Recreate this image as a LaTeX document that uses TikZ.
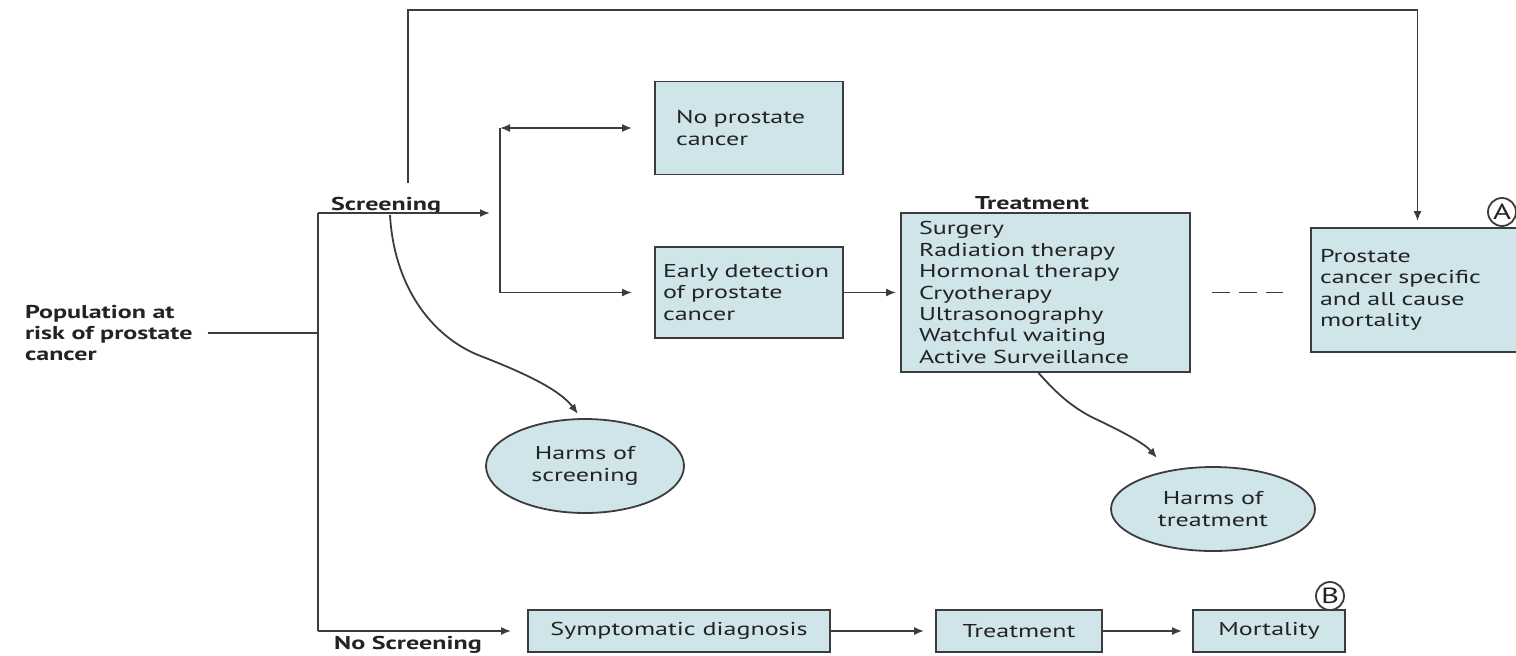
\documentclass[tikz,border=0pt]{standalone}
\usepackage{fontspec}
\setmainfont{PT Sans}[FakeStretch=1.4]
\usetikzlibrary{arrows.meta,shapes.geometric}
\definecolor{boxblue}{RGB}{207,229,233}
\definecolor{linegray}{RGB}{60,60,60}
\definecolor{textgray}{RGB}{35,35,35}
\begin{document}
\begin{tikzpicture}
[x=0.5pt,y=-0.5pt,
 font=\fontsize{9.3}{10.7}\selectfont, text=textgray,
 conn/.style={draw=linegray, line width=0.9pt},
 conarrow/.style={conn, -{Latex[length=5pt,width=4pt]}},
 headtext/.style={font=\fontsize{9.3}{10.5}\selectfont\bfseries},
 infobox/.style={draw=linegray, line width=0.9pt, fill=boxblue, inner ysep=0pt, align=left},
 flatbox/.style={draw=linegray, line width=0.9pt, fill=boxblue, minimum height=21pt, inner sep=0pt},
 harm/.style={ellipse, draw=linegray, line width=0.9pt, fill=boxblue, align=center, inner sep=0pt},
 markcirc/.style={circle, draw=linegray, line width=0.9pt, fill=white, inner sep=0pt, minimum size=14pt, font=\fontsize{11}{12}\selectfont}]
\useasboundingbox (0,0) rectangle (1516,655);
% texts
\node [headtext, align=left, anchor=west] (pop) at (18,333) {Population at\\risk of prostate\\cancer};
\node [headtext, anchor=base] (scrlab) at (386,210) {Screening};
\node [headtext, anchor=base] (noscrlab) at (408,649) {No Screening};
\node [headtext, anchor=base] (treatlab) at (1032,209) {Treatment};
% boxes
\node [infobox, text width=73pt, inner xsep=10.5pt, minimum height=46.5pt] (noprost) at (749,128) {No prostate\\cancer};
\node [infobox, text width=86pt, inner xsep=4pt, minimum height=45.5pt] (early) at (749,292.5) {Early detection\\of prostate\\cancer};
\node [infobox, text width=126.5pt, inner xsep=9pt, minimum height=79.5pt] (treat) at (1045.5,292.5) {Surgery\\Radiation therapy\\Hormonal therapy\\Cryotherapy\\Ultrasonography\\Watchful waiting\\Active Surveillance};
\node [infobox, text width=97.5pt, inner xsep=4.5pt, minimum height=62pt] (prost) at (1417.5,290) {Prostate\\cancer specific\\and all cause\\mortality};
\node [harm, minimum width=99pt, minimum height=47pt] (hscr) at (585,466) {Harms of\\screening};
\node [harm, minimum width=102pt, minimum height=42pt] (htreat) at (1213,509) {Harms of\\treatment};
\node [flatbox, minimum width=151pt] (sympt) at (679,631) {Symptomatic diagnosis};
\node [flatbox, minimum width=83pt] (treat2) at (1019,631) {Treatment};
\node [flatbox, minimum width=76pt] (mort) at (1269,631) {Mortality};
\node [markcirc] (markA) at (1502,212) {A};
\node [markcirc] (markB) at (1330,596) {B};
% junctions
\coordinate (fork) at (318,333);
\coordinate (scrfork) at (318,213);
\coordinate (noscrfork) at (318,631);
\coordinate (brtop) at (500,128);
\coordinate (brmid) at (500,213);
\coordinate (brbot) at (500,292.5);
\coordinate (loopstart) at (408,183);
\coordinate (loopcorner) at (408,10);
\coordinate (scrcurve) at (390,215);
\coordinate (scrtip) at (578,414);
\coordinate (treattip) at (1157,458);
% connectors
\draw [conn, shorten <=4pt] (pop.east) -- (fork);
\draw [conn] (scrfork) -- (noscrfork);
\draw [conarrow, shorten >=5pt] (scrfork) -- (brmid);
\draw [conn] (brtop) -- (brbot);
\draw [conn, {Latex[length=5pt,width=4pt]}-{Latex[length=5pt,width=4pt]}, shorten >=11pt] (brtop) -- (noprost.west);
\draw [conarrow, shorten >=11pt] (brbot) -- (early.west);
\draw [conarrow, shorten >=2pt] (early.east) -- (treat.west);
\draw [conarrow, shorten >=3pt] (loopstart) -- (loopcorner) -| (prost.north);
\draw [conn, dash pattern=on 9pt off 4.5pt, shorten <=10.5pt, shorten >=13.5pt] (treat.east) -- (treat.east -| prost.west);
\draw [conarrow] (scrcurve) .. controls (394,285) and (430,335) .. (478,355) .. controls (525,373) and (560,390) .. (scrtip);
\draw [conarrow] ([xshift=-3.5pt]treat.south) .. controls (1058,395) and (1075,410) .. (1100,421) .. controls (1125,433) and (1145,444) .. (treattip);
\draw [conarrow, shorten >=8pt] (noscrfork) -- (sympt.west);
\draw [conarrow, shorten >=5.5pt] (sympt.east) -- (treat2.west);
\draw [conarrow, shorten >=5pt] (treat2.east) -- (mort.west);
\end{tikzpicture}
\end{document}
